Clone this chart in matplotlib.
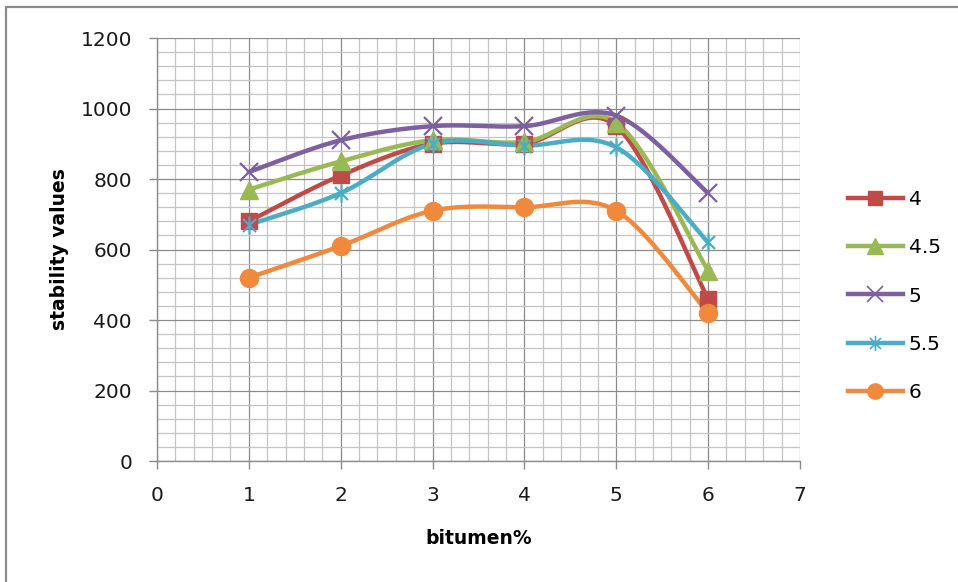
import numpy as np
import matplotlib
matplotlib.use("Agg")
import matplotlib.pyplot as plt
from matplotlib.path import Path
from matplotlib.patches import Rectangle
from matplotlib.ticker import MultipleLocator

# bitumen content on the x axis, one series per aggregate grading
bitumen = [1, 2, 3, 4, 5, 6]
series_names = ["4", "4.5", "5", "5.5", "6"]
s_4 = [680, 810, 900, 900, 950, 460]
s_4_5 = [770, 850, 910, 905, 960, 540]
s_5 = [820, 910, 950, 950, 980, 760]
s_5_5 = [670, 760, 900, 895, 890, 620]
s_6 = [520, 610, 710, 720, 710, 420]

colors = ["#BE4B48", "#98B954", "#7D60A0", "#4BACC6", "#F0893C"]

# asterisk: vertical bar plus a diagonal cross
star_path = Path(
    [(0, -1), (0, 1), (-0.72, -0.72), (0.72, 0.72), (-0.72, 0.72), (0.72, -0.72)],
    [Path.MOVETO, Path.LINETO, Path.MOVETO, Path.LINETO, Path.MOVETO, Path.LINETO],
)

styles = [
    dict(marker="s", ms=11),
    dict(marker="^", ms=13),
    dict(marker="x", ms=13, mew=1.6),
    dict(marker=star_path, ms=13, mew=1.6),
    dict(marker="o", ms=13),
]
legend_styles = [
    dict(marker="s", ms=10),
    dict(marker="^", ms=11),
    dict(marker="x", ms=11, mew=1.2),
    dict(marker=star_path, ms=11, mew=1.2),
    dict(marker="o", ms=11),
]


def smooth(xs, ys, n=40):
    # cubic bezier through the points, control points from neighbours (Excel-like smoothing)
    p = np.column_stack([xs, ys]).astype(float)
    pts = np.vstack([p[0], p, p[-1]])
    out = [p[:1]]
    t = np.linspace(0, 1, n)[1:, None]
    for i in range(1, len(pts) - 2):
        p0, p1, p2, p3 = pts[i - 1], pts[i], pts[i + 1], pts[i + 2]
        c1 = p1 + (p2 - p0) / 6
        c2 = p2 - (p3 - p1) / 6
        seg = ((1 - t) ** 3) * p1 + 3 * ((1 - t) ** 2) * t * c1 + 3 * (1 - t) * t ** 2 * c2 + t ** 3 * p2
        out.append(seg)
    c = np.vstack(out)
    return c[:, 0], c[:, 1]


plt.rcParams["font.family"] = "DejaVu Sans"

fig = plt.figure(figsize=(9.58, 5.82), dpi=100)
ax = fig.add_axes([0.1639, 0.2079, 0.835 - 0.1639, 0.9347 - 0.2079])

all_series = [s_4, s_4_5, s_5, s_5_5, s_6]
for name, vals, col, st, lst in zip(series_names, all_series, colors, styles, legend_styles):
    sx, sy = smooth(bitumen, vals)
    ax.plot(sx, sy, color=col, lw=3.2, solid_capstyle="round", zorder=3)
    ax.plot(bitumen, vals, ls="none", color=col, mfc=col, mec=col, zorder=4,
            **st)
    # legend proxy: line with marker
    ax.plot([], [], color=col, lw=3.2, mfc=col, mec=col, label=name, **lst)

ax.set_xlim(0, 7)
ax.set_ylim(0, 1200)
ax.xaxis.set_major_locator(MultipleLocator(1))
ax.xaxis.set_minor_locator(MultipleLocator(0.2))
ax.yaxis.set_major_locator(MultipleLocator(200))
ax.yaxis.set_minor_locator(MultipleLocator(40))

ax.grid(which="major", color="#8C8C8C", lw=0.9, zorder=1)
ax.grid(which="minor", color="#C4C4C4", lw=0.9, zorder=0)
ax.set_axisbelow(True)

for side in ["top", "right"]:
    ax.spines[side].set_visible(False)
for side in ["left", "bottom"]:
    ax.spines[side].set_color("#8C8C8C")
    ax.spines[side].set_linewidth(1.0)

ax.tick_params(which="major", direction="out", length=6, width=1.0, color="#8C8C8C",
               labelsize=14.5, labelcolor="#1A1A1A")
ax.tick_params(which="minor", length=0)
ax.tick_params(axis="y", pad=12)
ax.tick_params(axis="x", pad=12)

ax.set_xlabel("bitumen%", fontsize=13.5, fontweight="bold", labelpad=17)
ax.set_ylabel("stability values", fontsize=13.5, fontweight="bold", labelpad=8)

leg = ax.legend(loc="center left", bbox_to_anchor=(1.0, 0.39), frameon=False,
                fontsize=14.5, handlelength=2.7, handletextpad=0.3,
                labelspacing=1.45, borderaxespad=2.0)

# grey frame around the chart area
fig.patches.append(Rectangle((6 / 958, -0.05), 1.2, 1 - 7 / 582 + 0.05,
                             transform=fig.transFigure, fill=False,
                             ec="#8C8C8C", lw=1.6))

fig.savefig("out.png", dpi=100)
